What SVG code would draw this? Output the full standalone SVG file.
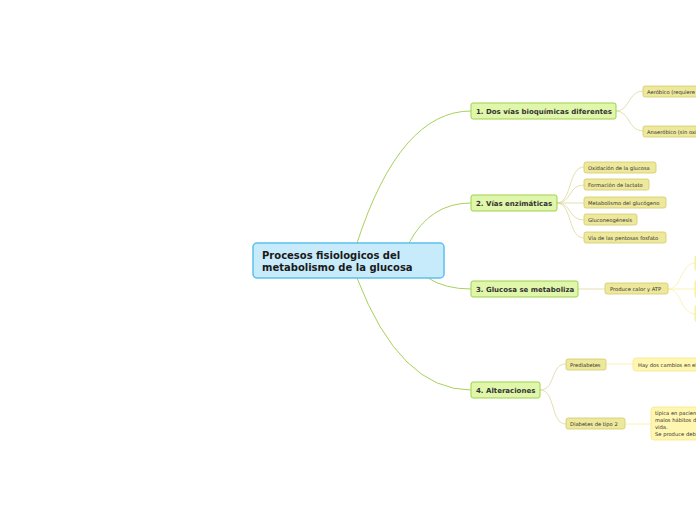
<svg xmlns="http://www.w3.org/2000/svg" width="696" height="520" viewBox="0 0 696 520">
<style>
.root rect{fill:#c8ebfb;stroke:#5cc1ee;stroke-width:1.5}
.root text{font-family:"DejaVu Sans",Verdana,sans-serif;font-weight:bold;font-size:10px;fill:#1a1a1a}
.main rect{fill:#e0f6aa;stroke:#9fd14a;stroke-width:1}
.main text{font-family:"DejaVu Sans",Verdana,sans-serif;font-weight:bold;font-size:7px;fill:#333}
.sub rect{fill:#ede89c;stroke:#d3cb68;stroke-width:0.8}
.sub text{font-family:"DejaVu Sans",Verdana,sans-serif;font-size:5.2px;fill:#333}
.leaf rect{fill:#fff6b0;stroke:#f5e98a;stroke-width:0.8}
.leaf text{font-family:"DejaVu Sans",Verdana,sans-serif;font-size:5.2px;fill:#333}
.c1{fill:none;stroke:#a8d25a;stroke-width:1}
.c2{fill:none;stroke:#dcd89a;stroke-width:0.8}
.c3{fill:none;stroke:#fbf0a0;stroke-width:0.8}
</style>
<g id="connectors">
<path class="c1" d="M357,243 Q400,111 471,111"/>
<path class="c1" d="M409,243 Q430,203 471,203"/>
<path class="c1" d="M428,278 Q445,289 471,289"/>
<path class="c1" d="M357,278 Q400,390 471,390"/>
<path class="c2" d="M616,111 C630,111 628,91 643,91"/>
<path class="c2" d="M616,111 C630,111 628,131 643,131"/>
<path class="c2" d="M557,203 C572,203 568,167 584,167"/>
<path class="c2" d="M557,203 C572,203 568,185 584,185"/>
<path class="c2" d="M557,203 L584,203"/>
<path class="c2" d="M557,203 C572,203 568,220 584,220"/>
<path class="c2" d="M557,203 C572,203 568,238 584,238"/>
<path class="c2" d="M578,289 L605,289"/>
<path class="c2" d="M540,390 C556,390 550,364 566,364"/>
<path class="c2" d="M540,390 C556,390 550,424 566,424"/>
<path class="c3" d="M668,289 C682,289 680,263 696,263"/>
<path class="c3" d="M668,289 L696,289"/>
<path class="c3" d="M668,289 C682,289 680,314 696,314"/>
<path class="c3" d="M606,364 L633,364"/>
<path class="c3" d="M625,424 L651,424"/>
</g>
<g id="root" class="root">
<rect x="253" y="243" width="191" height="35" rx="4"/>
<text x="262" y="259">Procesos fisiologicos del</text>
<text x="262" y="271">metabolismo de la glucosa</text>
</g>
<g id="n1" class="main"><rect x="471" y="103" width="145" height="16" rx="2"/><text x="476" y="114">1. Dos vías bioquímicas diferentes</text></g>
<g id="n2" class="main"><rect x="471" y="195" width="86" height="16" rx="2"/><text x="476" y="206">2. Vías enzimáticas</text></g>
<g id="n3" class="main"><rect x="471" y="281" width="107" height="16" rx="2"/><text x="476" y="292">3. Glucosa se metaboliza</text></g>
<g id="n4" class="main"><rect x="471" y="382" width="69" height="16" rx="2"/><text x="476" y="393">4. Alteraciones</text></g>
<g id="n1a" class="sub"><rect x="643" y="86" width="60" height="11" rx="2"/><text x="647" y="93.5">Aeróbico (requiere</text></g>
<g id="n1b" class="sub"><rect x="643" y="126" width="60" height="11" rx="2"/><text x="647" y="133.5">Anaeróbico (sin oxígeno</text></g>
<g id="n2a" class="sub"><rect x="584" y="162" width="72" height="11" rx="2"/><text x="588" y="169.5">Oxidación de la glucosa</text></g>
<g id="n2b" class="sub"><rect x="584" y="179" width="65" height="11" rx="2"/><text x="588" y="186.5">Formación de lactato</text></g>
<g id="n2c" class="sub"><rect x="584" y="197" width="82" height="11" rx="2"/><text x="588" y="204.5">Metabolismo del glucógeno</text></g>
<g id="n2d" class="sub"><rect x="584" y="214" width="53" height="11" rx="2"/><text x="588" y="221.5">Gluconeogénesis</text></g>
<g id="n2e" class="sub"><rect x="584" y="232" width="82" height="11" rx="2"/><text x="588" y="239.5">Vía de las pentosas fosfato</text></g>
<g id="n3a" class="sub"><rect x="605" y="283" width="63" height="11" rx="2"/><text x="610" y="290.5">Produce calor y ATP</text></g>
<g id="n3b" class="leaf"><rect x="695" y="255" width="10" height="16" rx="3"/></g>
<g id="n3c" class="leaf"><rect x="695" y="280" width="10" height="18" rx="3"/></g>
<g id="n3d" class="leaf"><rect x="695" y="305" width="10" height="17" rx="3"/></g>
<g id="n4a" class="sub"><rect x="566" y="359" width="40" height="11" rx="2"/><text x="570" y="366.5">Prediabetes</text></g>
<g id="n4b" class="sub"><rect x="566" y="418" width="59" height="11" rx="2"/><text x="570" y="425.5">Diabetes de tipo 2</text></g>
<g id="n4a1" class="leaf"><rect x="633" y="358" width="70" height="13" rx="3"/><text x="638" y="367">Hay dos cambios en el</text></g>
<g id="n4b1" class="leaf"><rect x="651" y="407" width="55" height="33" rx="3"/>
<text x="655" y="415">típica en pacientes con</text>
<text x="655" y="422">malos hábitos de</text>
<text x="655" y="429">vida.</text>
<text x="655" y="436">Se produce debido</text></g>
</svg>
